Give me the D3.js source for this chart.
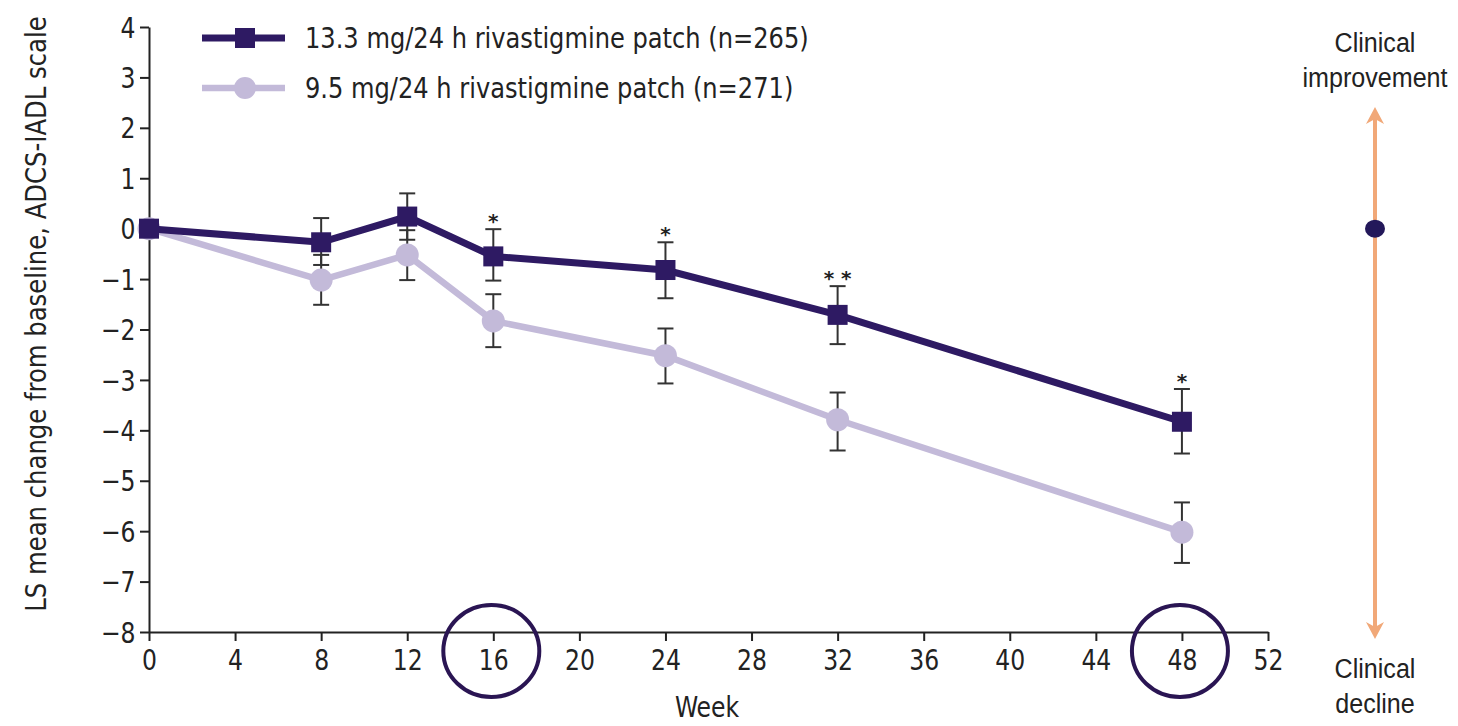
<!DOCTYPE html>
<html><head><meta charset="utf-8">
<script src="https://cdn.jsdelivr.net/npm/d3@7"></script>
<style>
html,body{margin:0;padding:0;background:#fff;}
svg{display:block;}
</style></head>
<body><svg id="c" width="1458" height="726"></svg>
<script>
// ---- data ----
const weeks = [0, 8, 12, 16, 24, 32, 48];
const highMean  = [0, -0.27, 0.24, -0.55, -0.82, -1.71, -3.83];
const highUpper = [0, 0.21, 0.70, -0.01, -0.27, -1.14, -3.18];
const highLower = [0, -0.72, -0.22, -1.03, -1.38, -2.29, -4.46];
const lowMean   = [0, -1.02, -0.52, -1.83, -2.52, -3.79, -6.02];
const lowUpper  = [0, -0.52, -0.03, -1.30, -1.98, -3.25, -5.43];
const lowLower  = [0, -1.51, -1.02, -2.35, -3.07, -4.40, -6.63];
const sigWeeks  = [16, 24, 32, 48];
const sigLabels = ["*", "*", "**", "*"];
const highlightWeeks = [16, 48];
const xTicks = [0, 4, 8, 12, 16, 20, 24, 28, 32, 36, 40, 44, 48, 52];
const yTicks = [4, 3, 2, 1, 0, -1, -2, -3, -4, -5, -6, -7, -8];
const seriesNames = ["13.3 mg/24 h rivastigmine patch (n=265)", "9.5 mg/24 h rivastigmine patch (n=271)"];
const yLabel = "LS mean change from baseline, ADCS-IADL scale";
const xLabel = "Week";

// ---- styles ----
const DARK = "#2e1a63", LIGHT = "#c3bad9", AX = "#222", ORANGE = "#f1a878";
const FONT = "'DejaVu Sans Condensed','Liberation Sans Narrow',sans-serif";

function squeeze(sel, k) {
  sel.each(function () {
    const L = this.getComputedTextLength();
    d3.select(this).attr("textLength", L * k).attr("lengthAdjust", "spacingAndGlyphs");
  });
}

const svg = d3.select("#c");
const x = d3.scaleLinear().domain([0, 52]).range([149, 1268]);
const y = d3.scaleLinear().domain([-8, 4]).range([632, 27]);

// axes
const xAxis = svg.append("g").attr("transform", `translate(0,${y(-8)})`)
  .call(d3.axisBottom(x).tickValues(xTicks).tickSize(9).tickSizeOuter(0).tickFormat(d3.format("d")));
const yAxis = svg.append("g").attr("transform", `translate(${x(0)},0)`)
  .call(d3.axisLeft(y).tickValues(yTicks).tickSize(9).tickSizeOuter(0)
    .tickFormat(d => d < 0 ? "\u2212" + Math.abs(d) : d));
[xAxis, yAxis].forEach(g => {
  g.selectAll("path,line").attr("stroke", AX).attr("stroke-width", 2);
  g.selectAll("text").attr("fill", "#222").style("font-family", FONT).style("font-size", "29px");
});
xAxis.selectAll("text").attr("dy", "0.9em");
yAxis.selectAll("text").attr("dx", "-0.05em").attr("dy", "0.35em");
squeeze(xAxis.selectAll("text"), 0.9);
squeeze(yAxis.selectAll("text"), 0.9);

// rotated y label, compressed with a scale transform so its box is exact
const yl = svg.append("text").attr("text-anchor", "middle").style("font-family", FONT).style("font-size", "28px")
  .attr("fill", "#222").text(yLabel);
const ylLen = yl.node().getComputedTextLength();
yl.attr("transform", `translate(46,314) rotate(-90) scale(${596 / ylLen},1)`);

const xl = svg.append("text").attr("x", 707).attr("y", 717).attr("text-anchor", "middle")
  .style("font-family", FONT).style("font-size", "29px").attr("fill", "#222").text(xLabel);
squeeze(xl, 0.9);

// error bars
function errBars(up, lo) {
  const g = svg.append("g");
  weeks.forEach((w, i) => {
    if (up[i] === lo[i]) return;
    const cx = x(w);
    g.append("line").attr("x1", cx).attr("x2", cx).attr("y1", y(up[i])).attr("y2", y(lo[i]));
    [up[i], lo[i]].forEach(v => g.append("line").attr("x1", cx - 8).attr("x2", cx + 8).attr("y1", y(v)).attr("y2", y(v)));
  });
  g.selectAll("line").attr("stroke", "#333").attr("stroke-width", 2);
}
errBars(lowUpper, lowLower);
errBars(highUpper, highLower);

const line = d3.line().x(d => x(d[0])).y(d => y(d[1]));
const lowPts = weeks.map((w, i) => [w, lowMean[i]]);
const highPts = weeks.map((w, i) => [w, highMean[i]]);
svg.append("path").datum(lowPts).attr("d", line).attr("fill", "none").attr("stroke", LIGHT).attr("stroke-width", 6.5);
svg.selectAll(".lp").data(lowPts).enter().append("circle")
  .attr("cx", d => x(d[0])).attr("cy", d => y(d[1])).attr("r", 11.5).attr("fill", LIGHT);
svg.append("path").datum(highPts).attr("d", line).attr("fill", "none").attr("stroke", DARK).attr("stroke-width", 7);
svg.selectAll(".hp").data(highPts).enter().append("rect")
  .attr("x", d => x(d[0]) - 10).attr("y", d => y(d[1]) - 10).attr("width", 20).attr("height", 20).attr("fill", DARK);

// significance
sigWeeks.forEach((w, i) => {
  const idx = weeks.indexOf(w);
  svg.append("text").attr("x", x(w)).attr("y", y(highUpper[idx]) - 1).attr("text-anchor", "middle")
    .style("font-family", "'DejaVu Sans',sans-serif").style("font-size", "20px").style("font-weight", "bold")
    .attr("fill", "#222").text(sigLabels[i].split("").join(" "));
});

// highlight circles
highlightWeeks.forEach(w => {
  svg.append("ellipse").attr("cx", x(w) - 2).attr("cy", 651).attr("rx", 48).attr("ry", 46)
    .attr("fill", "none").attr("stroke", "#2a1553").attr("stroke-width", 4);
});

// legend
const leg = svg.append("g");
[[DARK, "rect", 38], [LIGHT, "circle", 88]].forEach((s, i) => {
  const ly = s[2];
  leg.append("line").attr("x1", 202).attr("x2", 285).attr("y1", ly).attr("y2", ly)
    .attr("stroke", s[0]).attr("stroke-width", i === 0 ? 7 : 6.5);
  if (s[1] === "rect") leg.append("rect").attr("x", 235).attr("y", ly - 10).attr("width", 20).attr("height", 20).attr("fill", s[0]);
  else leg.append("circle").attr("cx", 245).attr("cy", ly).attr("r", 11).attr("fill", s[0]);
  const t = leg.append("text").attr("x", 305).attr("y", ly).attr("dy", "0.36em")
    .style("font-family", FONT).style("font-size", "29px").attr("fill", "#222").text(seriesNames[i]);
  squeeze(t, 0.925);
});

// right-side direction indicator
const ax = 1375;
svg.append("line").attr("x1", ax).attr("x2", ax).attr("y1", 118).attr("y2", 628)
  .attr("stroke", ORANGE).attr("stroke-width", 4);
svg.append("path").attr("d", `M${ax - 9},${124} L${ax},${107} L${ax + 9},${124} L${ax},${119} Z`).attr("fill", ORANGE);
svg.append("path").attr("d", `M${ax - 9},${622} L${ax},${639} L${ax + 9},${622} L${ax},${627} Z`).attr("fill", ORANGE);
svg.append("ellipse").attr("cx", ax).attr("cy", y(0)).attr("rx", 10).attr("ry", 9).attr("fill", "#23185a");
const RF = "'Liberation Sans','Arial',sans-serif";
[["Clinical", 52], ["improvement", 87], ["Clinical", 678], ["decline", 713]].forEach(t => {
  const tt = svg.append("text").attr("x", ax).attr("y", t[1]).attr("text-anchor", "middle")
    .style("font-family", RF).style("font-size", "27px").attr("fill", "#222").text(t[0]);
  squeeze(tt, 0.93);
});
</script></body></html>
